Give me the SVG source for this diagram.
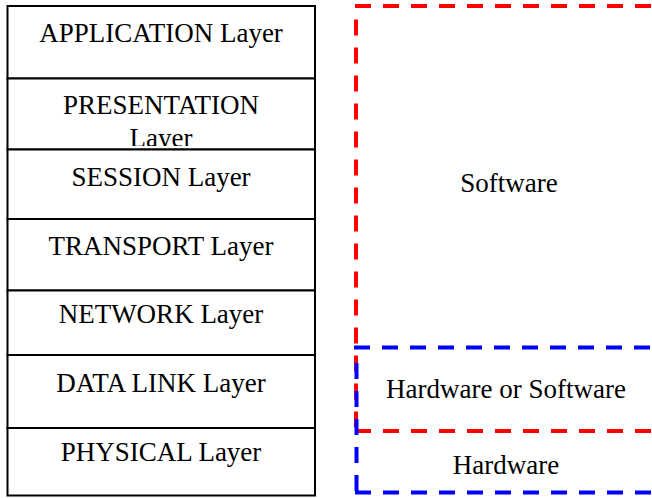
<svg xmlns="http://www.w3.org/2000/svg" width="652" height="498" viewBox="0 0 652 498">
<style>
.layer{fill:#fff;stroke:#000;stroke-width:2}
.t{font-family:"Liberation Serif","Times New Roman",serif;font-size:27px;fill:#000;text-anchor:middle}
.red{stroke:#ff0000;stroke-width:4;stroke-dasharray:16 12;fill:none}
.blue{stroke:#0000ff;stroke-width:4;stroke-dasharray:16 12;fill:none}
</style>
<defs>
<clipPath id="presClip"><rect x="7" y="78.5" width="308" height="67.5"/></clipPath>
</defs>
<rect width="652" height="498" fill="#fff"/>
<g id="application">
<rect class="layer" x="7.5" y="6" width="307.5" height="72.5"/>
<text class="t" x="161" y="42">APPLICATION Layer</text>
</g>
<g id="presentation">
<rect class="layer" x="7.5" y="78.5" width="307.5" height="71"/>
<g clip-path="url(#presClip)">
<text class="t" x="161" y="114">PRESENTATION</text>
<text class="t" x="161" y="146.5">Layer</text>
</g>
</g>
<g id="session">
<rect class="layer" x="7.5" y="149.5" width="307.5" height="69.5"/>
<text class="t" x="161" y="186">SESSION Layer</text>
</g>
<g id="transport">
<rect class="layer" x="7.5" y="219" width="307.5" height="71.5"/>
<text class="t" x="161" y="255">TRANSPORT Layer</text>
</g>
<g id="network">
<rect class="layer" x="7.5" y="290.5" width="307.5" height="64.5"/>
<text class="t" x="161" y="323">NETWORK Layer</text>
</g>
<g id="datalink">
<rect class="layer" x="7.5" y="355" width="307.5" height="73"/>
<text class="t" x="161" y="392">DATA LINK Layer</text>
</g>
<g id="physical">
<rect class="layer" x="7.5" y="428" width="307.5" height="67.5"/>
<text class="t" x="161" y="461">PHYSICAL Layer</text>
</g>
<g id="software">
<line class="red" x1="355" y1="6" x2="680" y2="6"/>
<line class="red" x1="356" y1="19.5" x2="356" y2="431"/>
<line class="red" x1="355" y1="431" x2="680" y2="431"/>
<text class="t" x="509" y="192">Software</text>
</g>
<g id="hardware">
<line class="blue" x1="354" y1="347.5" x2="680" y2="347.5"/>
<line class="blue" x1="356.5" y1="363" x2="356.5" y2="492.5"/>
<line class="blue" x1="355" y1="492.5" x2="680" y2="492.5"/>
<text class="t" x="506" y="398">Hardware or Software</text>
<text class="t" x="506" y="473.5">Hardware</text>
</g>
<g id="connectors"></g>
</svg>
